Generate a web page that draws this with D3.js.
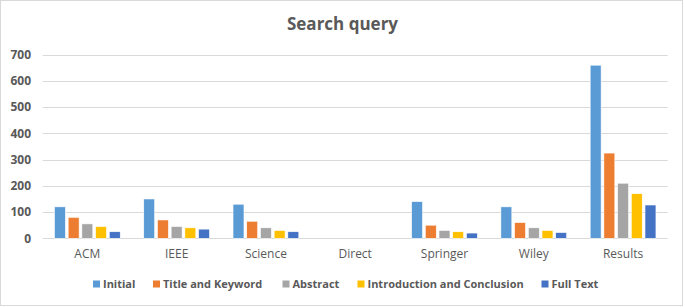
<!DOCTYPE html>
<html>
<head>
<meta charset="utf-8">
<script src="https://cdn.jsdelivr.net/npm/d3@7"></script>
<style>
  body { margin: 0; background: #fff; }
  svg { display: block; font-family: "Open Sans", sans-serif; }
</style>
</head>
<body>
<svg id="chart" width="685" height="307"></svg>
<script>
// data
const categories = ['ACM', 'IEEE', 'Science', 'Direct', 'Springer', 'Wiley', 'Results'];
const seriesNames = ['Initial', 'Title and Keyword', 'Abstract', 'Introduction and Conclusion', 'Full Text'];
const initial      = [120, 150, 130, null, 140, 120, 660];
const titleKeyword = [80, 70, 65, null, 50, 60, 325];
const abstractVals = [55, 45, 40, null, 30, 40, 210];
const introConcl   = [45, 40, 30, null, 25, 30, 170];
const fullText     = [25, 35, 25, null, 20, 22, 127];
const yTicks = [0, 100, 200, 300, 400, 500, 600, 700];
const colors = ['#5B9BD5', '#ED7D31', '#A5A5A5', '#FFC000', '#4472C4'];

const seriesValues = [initial, titleKeyword, abstractVals, introConcl, fullText];

const W = 685, H = 307;
const plot = {left: 42.7, right: 667.7, top: 54.7, bottom: 238.3};
const svg = d3.select('#chart');

// chart frame
svg.append('rect')
  .attr('x', 0.5).attr('y', 0.5)
  .attr('width', W - 3).attr('height', H - 2)
  .attr('fill', '#fff').attr('stroke', '#D9D9D9');

svg.append('text')
  .attr('x', W / 2).attr('y', 30)
  .attr('text-anchor', 'middle')
  .attr('font-size', 17).attr('font-weight', 'bold')
  .attr('fill', '#595959')
  .text('Search query');

const x = d3.scaleBand().domain(categories).range([plot.left, plot.right]);
const xs = d3.scaleBand().domain(seriesNames)
  .range([11.75, x.bandwidth() - 11.75]).paddingInner(0.2);
const y = d3.scaleLinear().domain([0, 700]).range([plot.bottom, plot.top]);

// gridlines
svg.append('g').selectAll('line')
  .data(yTicks).enter().append('line')
  .attr('x1', plot.left).attr('x2', plot.right)
  .attr('y1', d => Math.round(y(d)) + 0.5).attr('y2', d => Math.round(y(d)) + 0.5)
  .attr('stroke', '#D9D9D9').attr('stroke-width', 1);

// y labels
svg.append('g').selectAll('text')
  .data(yTicks).enter().append('text')
  .attr('x', 31).attr('y', d => y(d))
  .attr('dy', '0.35em')
  .attr('text-anchor', 'end')
  .attr('font-size', 12).attr('font-weight', 'bold')
  .attr('fill', '#595959')
  .text(d => d);

// bars
const groups = svg.append('g').selectAll('g')
  .data(seriesNames).enter().append('g')
  .attr('fill', (d, i) => colors[i]);

groups.selectAll('rect')
  .data((s, i) => categories.map((c, j) => ({c: c, s: s, v: seriesValues[i][j]})).filter(d => d.v != null))
  .enter().append('rect')
  .attr('x', d => x(d.c) + xs(d.s))
  .attr('width', xs.bandwidth())
  .attr('y', d => y(d.v))
  .attr('height', d => y(0) - y(d.v))
  .attr('stroke', '#fff').attr('stroke-width', 0.6);

// category labels
svg.append('g').selectAll('text')
  .data(categories).enter().append('text')
  .attr('x', d => x(d) + x.bandwidth() / 2)
  .attr('y', 258)
  .attr('text-anchor', 'middle')
  .attr('font-size', 12)
  .attr('fill', '#595959')
  .text(d => d);

// legend
const legendX = [93, 153, 282.5, 357.5, 541.5];
const legend = svg.append('g').selectAll('g')
  .data(seriesNames).enter().append('g')
  .attr('transform', (d, i) => `translate(${legendX[i]},284)`);
legend.append('rect')
  .attr('x', 0).attr('y', -3.5).attr('width', 7).attr('height', 7)
  .attr('fill', (d, i) => colors[i]);
legend.append('text')
  .attr('x', 10).attr('dy', '0.35em')
  .attr('font-size', 11).attr('font-weight', 'bold')
  .attr('fill', '#595959')
  .text(d => d);
</script>
</body>
</html>
